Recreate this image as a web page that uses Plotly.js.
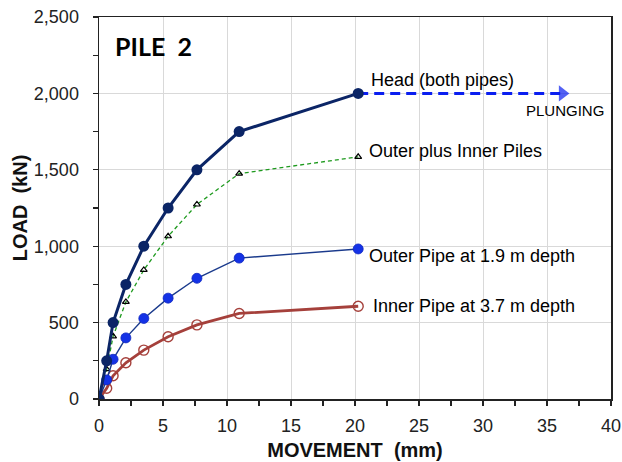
<!DOCTYPE html>
<html>
<head>
<meta charset="utf-8">
<script src="https://cdn.plot.ly/plotly-3.0.1.min.js"></script>
<style>html,body{margin:0;padding:0;background:#fff;}#chart{width:622px;height:462px;}</style>
</head>
<body>
<div id="chart"></div>
<script>
// Data
var movement = [0, 0.6, 1.1, 2.1, 3.5, 5.4, 7.65, 10.95, 20.25];   // mm
var headLoad = [0, 250, 500, 750, 1000, 1250, 1500, 1750, 2000];   // kN
var outerLoad = [0, 125, 260, 400, 527, 660, 790, 922, 982];        // kN
var innerLoad = [0, 70, 152, 237, 320, 407, 485, 560, 607];         // kN
var combinedLoad = [0, 195, 410, 635, 845, 1065, 1273, 1475, 1585]; // kN
var plungeX = [20.25, 36.2];
var plungeY = [2000, 2000];

var labels = {
  head: "Head (both pipes)",
  combined: "Outer plus Inner Piles",
  outer: "Outer Pipe at 1.9 m depth",
  inner: "Inner Pipe at 3.7 m depth",
  plunging: "PLUNGING",
  pile: "PILE  2",
  xTitle: "MOVEMENT  (mm)",
  yTitle: "LOAD  (kN)"
};

var FONT = "Liberation Sans, Arial, sans-serif";

var traces = [
  {
    x: movement, y: combinedLoad, mode: "lines+markers", type: "scatter",
    line: {color: "#1e9a1e", width: 1.3, dash: "4px,3px"},
    marker: {symbol: "triangle-up-open", size: 6, color: "#000", line: {color: "#000", width: 1.2}},
    hoverinfo: "skip"
  },
  {
    x: movement, y: innerLoad, mode: "lines+markers", type: "scatter",
    line: {color: "#a5403b", width: 2.8},
    marker: {symbol: "circle-open", size: 10, color: "#a5403b", line: {color: "#a5403b", width: 1.4}},
    hoverinfo: "skip"
  },
  {
    x: movement, y: outerLoad, mode: "lines+markers", type: "scatter",
    line: {color: "#1a3a8c", width: 1.4},
    marker: {symbol: "circle", size: 10, color: "#1432e6", line: {color: "#1028c0", width: 0.8}},
    hoverinfo: "skip"
  },
  {
    x: plungeX, y: plungeY, mode: "lines+markers", type: "scatter",
    line: {color: "#0a1ef0", width: 3, dash: "10px,6px"},
    marker: {symbol: ["circle", "triangle-right"], size: [0, 14], color: "#0a1ef0", line: {width: 0}},
    hoverinfo: "skip"
  },
  {
    x: movement, y: headLoad, mode: "lines+markers", type: "scatter",
    line: {color: "#0b2566", width: 3},
    marker: {symbol: "circle", size: 11, color: "#0b2566"},
    hoverinfo: "skip"
  }
];

function ann(text, x, y, size, opts) {
  var a = {text: text, x: x, y: y, xref: "x", yref: "y", showarrow: false,
           xanchor: "left", yanchor: "middle",
           font: {family: FONT, size: size, color: "#000"}};
  for (var k in opts) a[k] = opts[k];
  return a;
}

var layout = {
  width: 622, height: 462,
  margin: {l: 99, r: 11, t: 17, b: 63, pad: 0},
  paper_bgcolor: "#fff", plot_bgcolor: "#fff",
  showlegend: false,
  font: {family: FONT, size: 18, color: "#222"},
  xaxis: {
    range: [0, 40], dtick: 5, tick0: 0,
    showgrid: true, gridcolor: "#d9d9d9", gridwidth: 1,
    zeroline: false,
    showline: true, linecolor: "#222", linewidth: 1.5, mirror: true,
    ticks: "outside", ticklen: 5, tickcolor: "#222", tickwidth: 1.2,
    minor: {dtick: 2.5, ticks: "outside", ticklen: 5, tickcolor: "#222", showgrid: false},
    tickfont: {family: FONT, size: 18, color: "#222"},
    ticklabelstandoff: 5,
    title: {text: labels.xTitle, font: {family: FONT, size: 20, color: "#111", weight: "bold"}, standoff: 8}
  },
  yaxis: {
    range: [0, 2500], dtick: 500, tick0: 0, tickformat: ",d",
    showgrid: true, gridcolor: "#d9d9d9", gridwidth: 1,
    zeroline: false,
    showline: true, linecolor: "#222", linewidth: 1.5, mirror: true,
    ticks: "outside", ticklen: 5, tickcolor: "#222", tickwidth: 1.2,
    minor: {dtick: 250, ticks: "outside", ticklen: 5, tickcolor: "#222", showgrid: false},
    tickfont: {family: FONT, size: 18, color: "#222"},
    ticklabelstandoff: 10,
    title: {text: labels.yTitle, font: {family: FONT, size: 20, color: "#111", weight: "bold"}, standoff: 1}
  },
  annotations: [
    ann(labels.head, 21.1, 2086, 18),
    ann(labels.plunging, 33.2, 1888, 15),
    ann(labels.combined, 20.9, 1623, 18),
    ann(labels.outer, 20.9, 939, 18),
    ann(labels.inner, 21.25, 606, 18),
    ann("<b>" + labels.pile + "</b>", 1.1, 2308, 25, {font: {family: "Lato, " + FONT, size: 25, color: "#000"}})
  ]
};

Plotly.newPlot("chart", traces, layout, {displayModeBar: false, staticPlot: true});
</script>
</body>
</html>
